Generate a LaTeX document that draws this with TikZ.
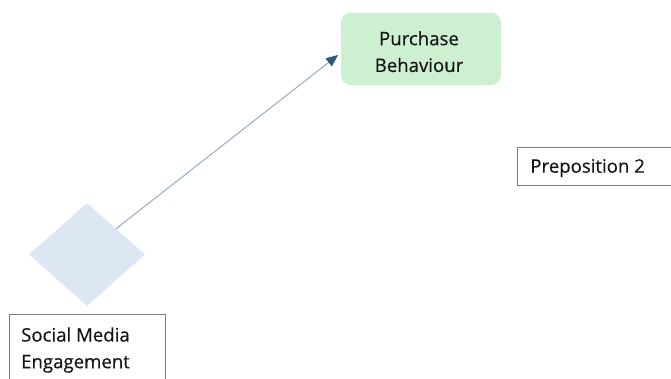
\documentclass[tikz,border=0pt]{standalone}
\usepackage{fontspec}
\setmainfont{Open Sans}
\newfontfamily\labelfont[FakeBold=0.3]{Open Sans}
\usetikzlibrary{shapes.geometric,arrows.meta}

\definecolor{boxgreen}{RGB}{205,240,208}
\definecolor{diamondblue}{RGB}{221,231,244}
\definecolor{linkline}{RGB}{140,166,190}
\definecolor{linkhead}{RGB}{42,90,126}
\definecolor{frame}{RGB}{125,125,125}
\definecolor{ink}{RGB}{20,20,20}

\tikzset{
  x=1pt, y=1pt,
  label text/.style={font=\labelfont\fontsize{18.6pt}{26.7pt}\selectfont, text=ink, inner sep=0pt},
  outcome/.style={draw=none, fill=boxgreen, rounded corners=10pt,
    minimum width=160pt, minimum height=72.3pt, inner sep=0pt},
  driver/.style={diamond, draw=none, fill=diamondblue, inner sep=0pt,
    minimum width=116pt, minimum height=103pt},
  caption box/.style={draw=frame, line width=0.8pt, fill=white, inner sep=0pt},
  link/.style={draw=linkline, line width=0.9pt,
    -{Triangle[length=12pt,width=10pt,color=linkhead]}}
}

\begin{document}
\begin{tikzpicture}
  \useasboundingbox (0,0) rectangle (671,-378);

  % purchase behaviour (outcome)
  \node[outcome] (pb) at (421,-48.8) {};
  \node[label text, align=center, anchor=north] (pbtext) at (419,-30.9)
    {Purchase\\Behaviour};

  % social media engagement (driver)
  \node[driver] (sm) at (87,-254.5) {};

  % caption boxes
  \node[caption box, anchor=north west, minimum width=156pt, minimum height=90pt]
    (smbox) at (9,-314) {};
  \node[label text, align=left, anchor=north west] (smtext) at (21,-327.2)
    {Social Media\\Engagement};

  \node[caption box, anchor=north west, minimum width=170pt, minimum height=37.7pt]
    (p2box) at (517,-147.3) {};
  \node[label text, anchor=base west] (p2text) at (530.2,-172.7) {Preposition 2};

  % link from driver to outcome
  \draw[link, shorten >=3.4pt] (sm.north east) -- ([yshift=-4.1pt]pb.west);
\end{tikzpicture}
\end{document}
